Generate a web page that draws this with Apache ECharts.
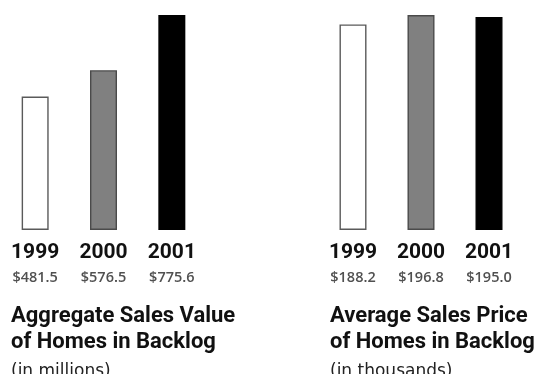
<!DOCTYPE html>
<html>
<head>
<meta charset="utf-8">
<script src="https://cdn.jsdelivr.net/npm/echarts@6/dist/echarts.min.js"></script>
<style>
  html, body { margin: 0; padding: 0; background: #fff; }
  #chart { width: 535px; height: 374px; }
</style>
</head>
<body>
<div id="chart"></div>
<script>
// Fiscal years shown under both panels
const years = ['1999', '2000', '2001'];
// Aggregate sales value of homes in backlog ($ millions)
const aggregateValue = [481.5, 576.5, 775.6];
// Average sales price of homes in backlog ($ thousands)
const averagePrice = [188.2, 196.8, 195.0];

const panelTitles = [
  'Aggregate Sales Value\nof Homes in Backlog',
  'Average Sales Price\nof Homes in Backlog'
];
const panelUnits = ['(in millions)', '(in thousands)'];

// Per-year bar look: hollow, mid grey, solid black
const barFills = ['#ffffff', '#808080', '#000000'];
const barEdges = ['#5a5a5a', '#4a4a4a', '#000000'];

const chart = echarts.init(document.getElementById('chart'), null, { renderer: 'canvas' });

function xAxisFor(gridIndex, values) {
  return {
    type: 'category',
    gridIndex: gridIndex,
    data: years,
    axisLine: { show: false },
    axisTick: { show: false },
    axisLabel: {
      margin: 12,
      interval: 0,
      formatter: function (val, idx) {
        return '{y|' + val + '}\n{v|$' + values[idx].toFixed(1) + '}';
      },
      rich: {
        y: { fontFamily: 'Roboto', fontWeight: 'bold', fontSize: 21, lineHeight: 22, color: '#111' },
        v: { fontFamily: 'Open Sans', fontWeight: 600, fontSize: 14.5, lineHeight: 28, color: '#505050' }
      }
    }
  };
}

function yAxisFor(gridIndex) {
  return {
    type: 'value',
    gridIndex: gridIndex,
    min: 0,
    max: 'dataMax',
    show: false,
    splitLine: { show: false }
  };
}

function seriesFor(index, values) {
  return {
    type: 'bar',
    xAxisIndex: index,
    yAxisIndex: index,
    barWidth: 27,
    silent: true,
    data: values.map(function (v, i) {
      return {
        value: v,
        itemStyle: { color: barFills[i], borderColor: barEdges[i], borderWidth: 1.4 }
      };
    })
  };
}

function titleFor(left, i) {
  return {
    left: left,
    top: 303,
    text: panelTitles[i],
    subtext: panelUnits[i],
    itemGap: 7,
    padding: 0,
    textStyle: { fontFamily: 'Roboto', fontWeight: 'bold', fontSize: 22, lineHeight: 26, color: '#111' },
    subtextStyle: { fontFamily: 'DejaVu Sans', fontSize: 17, lineHeight: 20, color: '#222' }
  };
}

chart.setOption({
  animation: false,
  backgroundColor: '#ffffff',
  title: [titleFor(11, 0), titleFor(330, 1)],
  grid: [
    { left: 1, width: 205, top: 15, bottom: 144 },
    { left: 319, width: 204, top: 15, bottom: 144 }
  ],
  xAxis: [xAxisFor(0, aggregateValue), xAxisFor(1, averagePrice)],
  yAxis: [yAxisFor(0), yAxisFor(1)],
  series: [seriesFor(0, aggregateValue), seriesFor(1, averagePrice)]
});
</script>
</body>
</html>
